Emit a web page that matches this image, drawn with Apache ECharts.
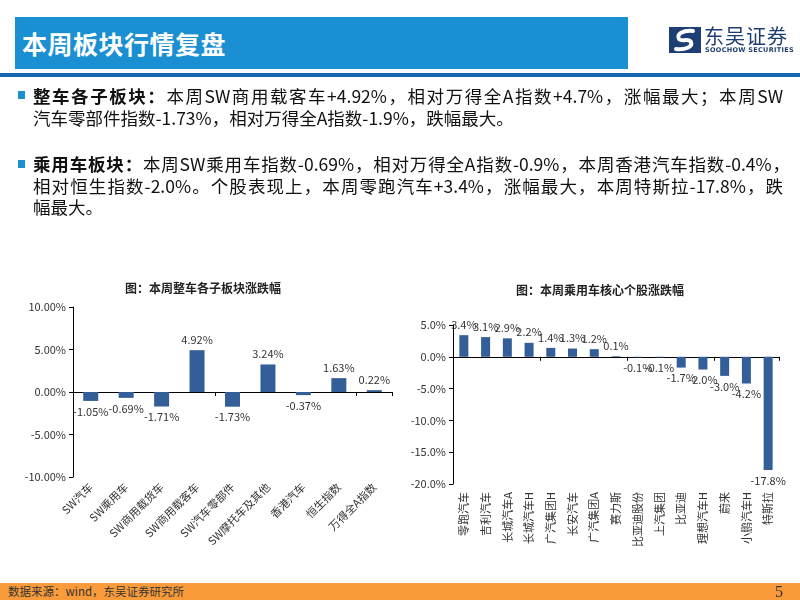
<!DOCTYPE html>
<html>
<head>
<meta charset="utf-8">
<script src="https://cdn.jsdelivr.net/npm/echarts@6/dist/echarts.min.js"></script>
<style>
html,body{margin:0;padding:0;width:800px;height:600px;overflow:hidden;background:#fff;font-family:"Noto Sans CJK SC","Noto Sans",sans-serif;}
#chart{position:absolute;left:0;top:0;width:800px;height:600px;}
.hdr{position:absolute;left:15px;top:17px;width:613px;height:52px;background:#1a8fd2;}
.hdr span{position:absolute;left:7px;top:0;line-height:52px;font-size:25px;font-weight:bold;color:#fff;letter-spacing:0.5px;}
.rule{position:absolute;left:0;top:73px;width:800px;height:4px;background:#1565ad;}
.logo-txt{position:absolute;left:704px;top:24px;font-size:20px;color:#1d3d70;line-height:24px;letter-spacing:1px;}
.logo-en{position:absolute;left:705px;top:46px;font-size:6.5px;font-weight:bold;color:#1d3d70;line-height:8px;letter-spacing:0.3px;font-family:"DejaVu Sans",sans-serif;}
.logo-ico{position:absolute;left:669px;top:27px;}
.bul{position:absolute;width:7px;height:8px;background:#1a8fd2;left:18px;}
.ln{position:absolute;left:33px;font-size:17.5px;line-height:22px;color:#111;white-space:nowrap;}
.ln.j{width:750px;text-align:justify;text-align-last:justify;white-space:normal;}
.ln b{font-weight:bold;}
.foot{position:absolute;left:0;top:583px;width:800px;height:17px;background:#f99b3a;}
.foot .src{position:absolute;left:8px;top:0;line-height:17px;font-size:11.5px;color:#333;}
.foot .pg{position:absolute;left:775px;top:-1px;line-height:19px;font-size:16px;color:#333;font-family:"Liberation Serif","DejaVu Serif",serif;}
</style>
</head>
<body>
<div id="chart"></div>
<div class="hdr"><span>本周板块行情复盘</span></div>
<div class="rule"></div>
<svg class="logo-ico" width="32" height="26" viewBox="0 0 32 26">
  <rect x="0" y="0" width="32" height="26" fill="#1d3f75"/>
  <path d="M24 4 C14 3 7 7 10 12 C12 15 20 11 22 15 C24 20 16 23 7 22" fill="none" stroke="#fff" stroke-width="4" stroke-linecap="round"/>
</svg>
<div class="logo-txt">东吴证券</div>
<div class="logo-en">SOOCHOW SECURITIES</div>

<div class="bul" style="top:91px"></div>
<div class="ln j" style="top:85px"><b>整车各子板块：</b>本周SW商用载客车+4.92%，相对万得全A指数+4.7%，涨幅最大；本周SW</div>
<div class="ln" style="top:107px">汽车零部件指数-1.73%，相对万得全A指数-1.9%，跌幅最大。</div>

<div class="bul" style="top:160px"></div>
<div class="ln j" style="top:153px;width:757px"><b>乘用车板块：</b>本周SW乘用车指数-0.69%，相对万得全A指数-0.9%，本周香港汽车指数-0.4%，</div>
<div class="ln j" style="top:175px">相对恒生指数-2.0%。个股表现上，本周零跑汽车+3.4%，涨幅最大，本周特斯拉-17.8%，跌</div>
<div class="ln" style="top:196px">幅最大。</div>

<div class="foot"><span class="src">数据来源：wind，东吴证券研究所</span><span class="pg">5</span></div>

<script>
const sectorCats = ['SW汽车','SW乘用车','SW商用载货车','SW商用载客车','SW汽车零部件','SW摩托车及其他','香港汽车','恒生指数','万得全A指数'];
const sectorVals = [-1.05, -0.69, -1.71, 4.92, -1.73, 3.24, -0.37, 1.63, 0.22];
const stockCats = ['零跑汽车','吉利汽车','长城汽车A','长城汽车H','广汽集团H','长安汽车','广汽集团A','赛力斯','比亚迪股份','上汽集团','比亚迪','理想汽车H','蔚来','小鹏汽车H','特斯拉'];
const stockVals = [3.4, 3.1, 2.9, 2.2, 1.4, 1.3, 1.2, 0.1, -0.1, -0.1, -1.7, -2.0, -3.0, -4.2, -17.8];
const sectorTitle = '图：本周整车各子板块涨跌幅';
const stockTitle = '图：本周乘用车核心个股涨跌幅';

const FONT = '"Noto Sans CJK SC","Noto Sans",sans-serif';
const TXT = '#333';
const BAR = '#335e97';

function toData(vals) {
  return vals.map(v => ({ value: v, label: { position: v >= 0 ? 'top' : 'bottom' } }));
}
function labelAxis(grid, cats, rot) {
  return {
    type: 'category', gridIndex: grid, data: cats, position: 'bottom',
    axisLine: { show: false, onZero: false }, axisTick: { show: false },
    axisLabel: { rotate: rot, interval: 0, fontSize: 11, color: TXT, margin: 8, fontFamily: FONT }
  };
}
function lineAxis(grid, cats) {
  return {
    type: 'category', gridIndex: grid, data: cats, position: 'bottom',
    axisLine: { show: true, onZero: true, lineStyle: { color: '#000', width: 1 } },
    axisTick: { show: true, length: 4, lineStyle: { color: '#000' } },
    axisLabel: { show: false }
  };
}
function valAxis(grid, min, max, dec) {
  return {
    type: 'value', gridIndex: grid, min: min, max: max, interval: 5,
    axisLine: { show: true, lineStyle: { color: '#000', width: 1 } },
    axisTick: { show: true, length: 4, lineStyle: { color: '#000' } },
    splitLine: { show: false },
    axisLabel: { formatter: v => v.toFixed(dec) + '%', fontSize: 11, color: TXT, margin: 7, fontFamily: FONT }
  };
}

const chart = echarts.init(document.getElementById('chart'));
chart.setOption({
  animation: false,
  textStyle: { fontFamily: FONT },
  title: [
    { text: sectorTitle, left: 198, top: 277, textAlign: 'center', textStyle: { fontSize: 12, fontWeight: 'bold', color: '#222', fontFamily: FONT } },
    { text: stockTitle, left: 595, top: 279, textAlign: 'center', textStyle: { fontSize: 12, fontWeight: 'bold', color: '#222', fontFamily: FONT } }
  ],
  grid: [
    { left: 73, top: 307, width: 319, height: 170 },
    { left: 453, top: 325, width: 326, height: 159 }
  ],
  xAxis: [
    labelAxis(0, sectorCats, 45),
    lineAxis(0, sectorCats),
    labelAxis(1, stockCats, 90),
    lineAxis(1, stockCats)
  ],
  yAxis: [
    valAxis(0, -10, 10, 2),
    valAxis(1, -20, 5, 1)
  ],
  series: [
    {
      type: 'bar', xAxisIndex: 0, yAxisIndex: 0, data: toData(sectorVals), barWidth: 15,
      itemStyle: { color: BAR },
      label: { show: true, formatter: p => p.value.toFixed(2) + '%', fontSize: 11, color: TXT, distance: 5 }
    },
    {
      type: 'bar', xAxisIndex: 2, yAxisIndex: 1, data: toData(stockVals), barWidth: 9,
      itemStyle: { color: BAR },
      label: { show: true, formatter: p => p.value.toFixed(1) + '%', fontSize: 11, color: TXT, distance: 5 }
    }
  ]
});
</script>
</body>
</html>
